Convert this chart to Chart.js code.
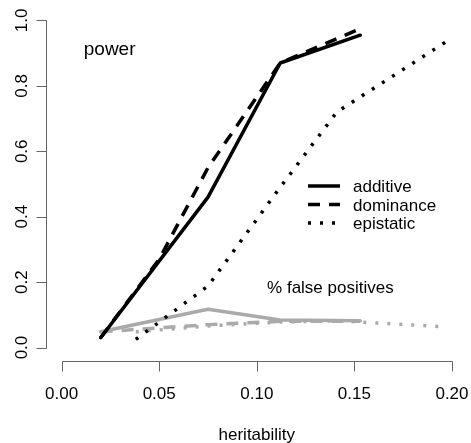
<!DOCTYPE html>
<html>
<head>
<meta charset="utf-8">
<script src="https://cdn.jsdelivr.net/npm/chart.js@4/dist/chart.umd.min.js"></script>
<style>
html,body{margin:0;padding:0;background:#fff;}
#wrap{width:471px;height:443px;position:relative;}
</style>
</head>
<body>
<div id="wrap"><canvas id="c" width="471" height="443"></canvas></div>
<script>
// ---- data ----
const heritAD = [0.02, 0.075, 0.112, 0.153];
const heritDom = [0.02, 0.05, 0.075, 0.112, 0.153];
const powerAdditive = [0.03, 0.46, 0.87, 0.955];
const powerDominance = [0.03, 0.27, 0.55, 0.87, 0.975];
const heritEpi = [0.038, 0.075, 0.112, 0.141, 0.197];
const powerEpistatic = [0.025, 0.188, 0.49, 0.72, 0.935];
const fpAdditive = [0.048, 0.117, 0.084, 0.082];
const fpDominance = [0.048, 0.07, 0.08, 0.08];
const fpEpistatic = [0.048, 0.066, 0.078, 0.082, 0.063];

const xTicks = [0.00, 0.05, 0.10, 0.15, 0.20];
const xTickLabels = ["0.00", "0.05", "0.10", "0.15", "0.20"];
const yTicks = [0.0, 0.2, 0.4, 0.6, 0.8, 1.0];
const yTickLabels = ["0.0", "0.2", "0.4", "0.6", "0.8", "1.0"];
const legendLabels = ["additive", "dominance", "epistatic"];
const xTitle = "heritability";
const noteTop = "power";
const noteBottom = "% false positives";

const FONT = '"Liberation Sans", Arial, Helvetica, sans-serif';
const BLACK = '#000000';
const GRAY = '#aaaaaa';
const DASH = [12, 9];
const DOT = [3, 9];
const LW = 3.5;

function pts(xs, ys){ return xs.map((x,i)=>({x:x, y:ys[i]})); }

function ds(label, xs, ys, color, dash, order){
  return {
    label: label,
    data: pts(xs, ys),
    borderColor: color,
    backgroundColor: color,
    borderWidth: LW,
    borderDash: dash,
    borderCapStyle: dash.length ? 'butt' : 'round',
    borderJoinStyle: 'round',
    pointRadius: 0,
    pointHoverRadius: 0,
    tension: 0,
    fill: false,
    order: order
  };
}

const rAxes = {
  id: 'rAxes',
  afterDraw(chart){
    const ctx = chart.ctx;
    const xs = chart.scales.x, ys = chart.scales.y;
    ctx.save();
    ctx.strokeStyle = '#666666';
    ctx.lineWidth = 1;
    // x axis
    const ay = Math.round(chart.chartArea.bottom) + 0.5;
    const x0 = xs.getPixelForValue(xTicks[0]), x1 = xs.getPixelForValue(xTicks[xTicks.length-1]);
    ctx.beginPath();
    ctx.moveTo(Math.round(x0)+0.5, ay); ctx.lineTo(Math.round(x1)+0.5, ay);
    xTicks.forEach(v=>{ const p = Math.round(xs.getPixelForValue(v))+0.5; ctx.moveTo(p, ay); ctx.lineTo(p, ay+10); });
    ctx.stroke();
    // y axis
    const ax = Math.round(chart.chartArea.left) + 0.5;
    const y0 = ys.getPixelForValue(yTicks[0]), y1 = ys.getPixelForValue(yTicks[yTicks.length-1]);
    ctx.beginPath();
    ctx.moveTo(ax, Math.round(y0)+0.5); ctx.lineTo(ax, Math.round(y1)+0.5);
    yTicks.forEach(v=>{ const p = Math.round(ys.getPixelForValue(v))+0.5; ctx.moveTo(ax, p); ctx.lineTo(ax-10, p); });
    ctx.stroke();
    // tick labels
    ctx.fillStyle = '#000';
    ctx.font = '17px ' + FONT;
    ctx.textAlign = 'center';
    ctx.textBaseline = 'middle';
    xTicks.forEach((v,i)=>{ ctx.fillText(xTickLabels[i], xs.getPixelForValue(v), ay + 33); });
    yTicks.forEach((v,i)=>{
      ctx.save();
      ctx.translate(ax - 24, ys.getPixelForValue(v));
      ctx.rotate(-Math.PI/2);
      ctx.fillText(yTickLabels[i], 0, 0);
      ctx.restore();
    });
    // axis title
    ctx.fillText(xTitle, (chart.chartArea.left + chart.chartArea.right)/2, 435);
    // notes
    ctx.font = '19px ' + FONT;
    ctx.fillText(noteTop, xs.getPixelForValue(0.0246), ys.getPixelForValue(0.91));
    ctx.font = '17px ' + FONT;
    ctx.fillText(noteBottom, xs.getPixelForValue(0.1377), ys.getPixelForValue(0.182));
    // legend
    const lx0 = 308, lx1 = 340, ly = [186, 204.5, 223];
    const styles = [[], DASH, DOT];
    ctx.strokeStyle = BLACK;
    ctx.lineWidth = LW;
    ctx.lineCap = 'butt';
    styles.forEach((d,i)=>{
      ctx.setLineDash(d);
      ctx.beginPath(); ctx.moveTo(lx0, ly[i]); ctx.lineTo(lx1, ly[i]); ctx.stroke();
    });
    ctx.setLineDash([]);
    ctx.textAlign = 'left';
    legendLabels.forEach((t,i)=>{ ctx.fillText(t, 353, ly[i] + 1.5); });
    ctx.restore();
  }
};

new Chart(document.getElementById('c'), {
  type: 'line',
  data: {
    datasets: [
      ds('additive', heritAD, powerAdditive, BLACK, [], 1),
      ds('dominance', heritDom, powerDominance, BLACK, DASH, 2),
      ds('epistatic', heritEpi, powerEpistatic, BLACK, DOT, 3),
      ds('fp additive', heritAD, fpAdditive, GRAY, [], 4),
      ds('fp dominance', heritAD, fpDominance, GRAY, DASH, 5),
      ds('fp epistatic', heritEpi, fpEpistatic, GRAY, DOT, 6)
    ]
  },
  options: {
    responsive: false,
    animation: false,
    layout: { padding: { left: 46, right: 3.4, top: 7.4, bottom: 82.4 } },
    plugins: { legend: { display: false }, tooltip: { enabled: false } },
    scales: {
      x: { type: 'linear', min: -0.008, max: 0.208, display: false },
      y: { type: 'linear', min: -0.04, max: 1.04, display: false }
    }
  },
  plugins: [rAxes]
});
</script>
</body>
</html>
